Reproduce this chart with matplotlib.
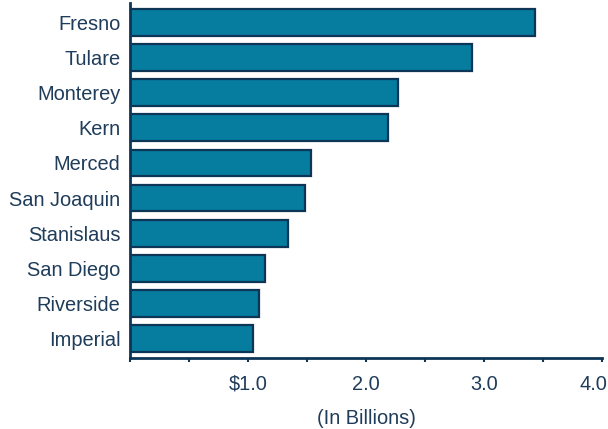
import matplotlib.pyplot as plt
import matplotlib.transforms as mtransforms
from matplotlib.ticker import MultipleLocator

plt.rcParams['font.family'] = ['Liberation Sans', 'DejaVu Sans']

counties = ['Imperial', 'Riverside', 'San Diego', 'Stanislaus', 'San Joaquin',
            'Merced', 'Kern', 'Monterey', 'Tulare', 'Fresno']
values = [1.04, 1.09, 1.14, 1.34, 1.48, 1.53, 2.19, 2.27, 2.90, 3.43]
tick_vals = [1.0, 2.0, 3.0, 4.0]
tick_labels = ['$1.0', '2.0', '3.0', '4.0']

navy = '#0d3656'
txt = '#1f3c5a'
fill = '#067c9f'

fig = plt.figure(figsize=(6.08, 4.29), dpi=100)
ax = fig.add_axes([0.214, 0.1655, 0.776, 0.8275])

ax.barh(range(len(counties)), values, height=0.76, color=fill,
        edgecolor=navy, linewidth=1.6)

ax.set_xlim(0, 4.0)
ax.set_ylim(-0.55, 9.55)
ax.set_yticks(range(len(counties)))
ax.set_yticklabels(counties, fontsize=14.4, color=txt)
ax.tick_params(axis='y', length=0, pad=7)

ax.set_xticks(tick_vals)
ax.set_xticklabels(tick_labels, fontsize=14.4, color=txt)
ax.xaxis.set_minor_locator(MultipleLocator(0.5))
ax.tick_params(axis='x', which='both', direction='out', length=3, width=1.5,
               color=navy, pad=9)

# last label sits against the right edge, as in the original
last = ax.get_xticklabels()[-1]
last.set_transform(last.get_transform() +
                   mtransforms.ScaledTranslation(-8 / 100, 0, fig.dpi_scale_trans))

for s in ['top', 'right']:
    ax.spines[s].set_visible(False)
for s in ['left', 'bottom']:
    ax.spines[s].set_color(navy)
    ax.spines[s].set_linewidth(2)

ax.set_xlabel('(In Billions)', fontsize=14.4, color=txt, labelpad=11)

fig.savefig('out.png', dpi=100)
